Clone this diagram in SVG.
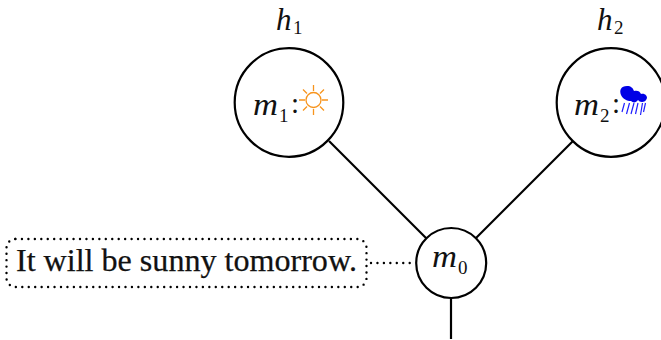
<svg xmlns="http://www.w3.org/2000/svg" width="661" height="340" viewBox="0 0 661 340">
<style>
.n{fill:#fff;stroke:#000;stroke-width:2.2}
.e{fill:none;stroke:#000;stroke-width:2.2}
.d{fill:none;stroke:#000;stroke-width:2.4;stroke-linecap:round;stroke-dasharray:0 6.45}
text{font-family:"Liberation Serif",serif;fill:#111}
.m{font-style:italic;font-size:31px}
.s{font-size:19px}
.c{font-size:29px}
.sun{fill:none;stroke:#f7941d;stroke-width:1.3}
.rain{fill:none;stroke:#1f1fff;stroke-width:1.2}
</style>
<g id="connectors">
<line class="e" x1="329" y1="141" x2="426" y2="238"/>
<line class="e" x1="573" y1="141" x2="476" y2="238"/>
<line class="e" x1="451" y1="298" x2="451" y2="339"/>
<line class="d" x1="371" y1="263" x2="415" y2="263"/>
</g>
<g id="h1">
<text class="m" x="276" y="30">h</text><text class="s" x="293" y="34">1</text>
<circle class="n" cx="289" cy="102.500" r="54.300"/>
<text class="m" x="253" y="115" textLength="25" lengthAdjust="spacingAndGlyphs">m</text><text class="s" x="279" y="122">1</text>
<text class="c" x="291" y="113">:</text>
<g class="sun">
<circle cx="313.500" cy="100" r="7.500"/>
<path d="M313.500 85v6M313.500 109v6M299 100h6M322 100h6M303 89.500l4 4M320 106.500l4 4M324 89.500l-4 4M307 106.500l-4 4"/>
</g>
</g>
<g id="h2">
<text class="m" x="597" y="30">h</text><text class="s" x="614" y="34">2</text>
<circle class="n" cx="611" cy="102.500" r="54.300"/>
<text class="m" x="574" y="115" textLength="25" lengthAdjust="spacingAndGlyphs">m</text><text class="s" x="600" y="122">2</text>
<text class="c" x="612" y="113">:</text>
<g>
<path fill="#0000e6" d="M621 95c-2-5 0-9 6-9c4 0 6 2 7 5c3-1 6 0 7 3c4-1 6 2 6 4c-1 3-3 4-5 4c-2 0-3-1-4-2c-2 3-5 3-7 1c-4 0-8-2-10-6z"/>
<path class="rain" d="M624.500 103l-2.500 9M629.500 103l-3 11M634 103l-3 11M638 103l-2.500 11M642.500 103l-2 12M645.500 103l-2 9"/>
</g>
</g>
<g id="m0">
<circle class="n" cx="451.200" cy="263" r="35"/>
<text class="m" x="432" y="267" textLength="25" lengthAdjust="spacingAndGlyphs">m</text><text class="s" x="458" y="274">0</text>
</g>
<g id="note">
<rect class="d" x="6.500" y="239" width="360" height="48" rx="9"/>
<text x="16" y="271" font-size="31" textLength="341" lengthAdjust="spacingAndGlyphs" stroke="#111" stroke-width=".25">It will be sunny tomorrow.</text>
</g>
</svg>
